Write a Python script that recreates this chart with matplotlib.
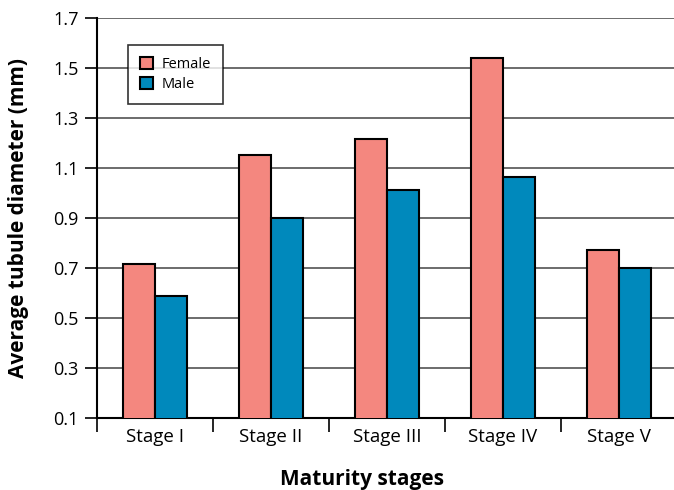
import matplotlib
matplotlib.use("Agg")
import matplotlib.pyplot as plt
import numpy as np

categories = ["Stage I", "Stage II", "Stage III", "Stage IV", "Stage V"]
female = [0.715, 1.152, 1.217, 1.540, 0.772]
male = [0.588, 0.900, 1.012, 1.064, 0.700]
yticks = [0.1, 0.3, 0.5, 0.7, 0.9, 1.1, 1.3, 1.5, 1.7]

plt.rcParams['font.family'] = ['Open Sans', 'DejaVu Sans']

fig = plt.figure(figsize=(6.74, 4.90), dpi=100)
ax = fig.add_axes([97/674, 1-418/490, 580/674, 400/490])

x = np.arange(len(categories))
w = 0.28
fcol = '#F4877F'
mcol = '#0089BC'
ax.bar(x - w/2, female, w, bottom=0, color=fcol, edgecolor='black', linewidth=1.5, label='Female', zorder=3)
ax.bar(x + w/2, male, w, bottom=0, color=mcol, edgecolor='black', linewidth=1.5, label='Male', zorder=3)

ax.set_ylim(0.1, 1.7)
ax.set_xlim(-0.5, len(categories) - 0.5)
ax.set_yticks(yticks)
ax.set_yticklabels([f"{v:.1f}" for v in yticks], fontsize=13)
ax.yaxis.grid(True, color='#444444', linewidth=1.1, zorder=0)
ax.set_axisbelow(True)

ax.set_xticks(x)
ax.set_xticklabels(categories, fontsize=13.5)
ax.tick_params(axis='x', which='major', length=0, pad=7)
ax.set_xticks(np.arange(-0.5, len(categories)), minor=True)
ax.tick_params(axis='x', which='minor', length=10, width=1.2, direction='out')
ax.tick_params(axis='y', length=9, width=1.2, direction='out', pad=4)

for s in ['top', 'right']:
    ax.spines[s].set_visible(False)
for s in ['left', 'bottom']:
    ax.spines[s].set_linewidth(1.5)

fig.text(19/674, 1-218/490, 'Average tubule diameter (mm)', fontsize=15, fontweight='bold',
         rotation=90, ha='center', va='center')
fig.text(362/674, 1-479/490, 'Maturity stages', fontsize=15, fontweight='bold',
         ha='center', va='center')

leg = ax.legend(loc='upper left', bbox_to_anchor=(31/580, 373/400), fontsize=10.5,
                frameon=True, fancybox=False, edgecolor='black', borderaxespad=0,
                handlelength=0.9, handleheight=0.9, handletextpad=0.6,
                borderpad=0.8, labelspacing=0.35)
leg.get_frame().set_linewidth(1.2)

fig.savefig('out.png', dpi=100)
